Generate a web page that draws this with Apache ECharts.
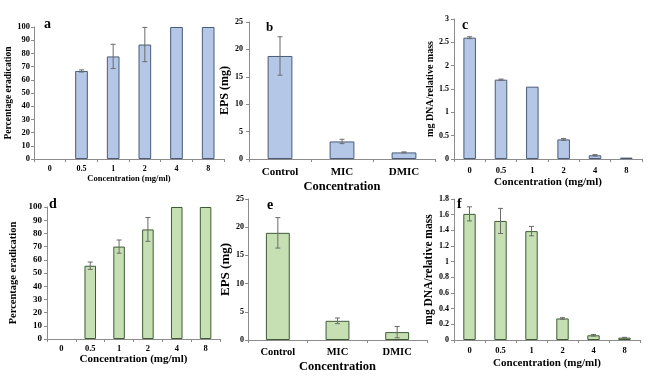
<!DOCTYPE html>
<html>
<head>
<meta charset="utf-8">
<script src="https://cdn.jsdelivr.net/npm/echarts@6/dist/echarts.min.js"></script>
<style>html,body{margin:0;padding:0;background:#fff;}#c{width:657px;height:377px;}</style>
</head>
<body>
<div id="c"></div>
<script>
// ---- data ----
const concCats = ['0', '0.5', '1', '2', '4', '8'];
const epsCats = ['Control', 'MIC', 'DMIC'];

const aVals = [0, 66.7, 77.7, 86.7, 100, 100];
const aErr  = [0, 0.8, 9.2, 13, 0, 0];
const bVals = [18.8, 3.2, 1.2];
const bErr  = [3.5, 0.4, 0.1];
const cVals = [2.6, 1.7, 1.55, 0.42, 0.08, 0.03];
const cErr  = [0.02, 0.012, 0, 0.02, 0.015, 0];
const dVals = [0, 55.5, 70, 83, 100, 100];
const dErr  = [0, 2.8, 5, 9, 0, 0];
const eVals = [19, 3.4, 1.4];
const eErr  = [2.7, 0.5, 1.0];
const fVals = [1.61, 1.52, 1.39, 0.275, 0.06, 0.03];
const fErr  = [0.09, 0.16, 0.06, 0.01, 0.01, 0.004];

const FONT = "'Liberation Serif', 'Times New Roman', serif";
const BLUE = '#b4c7e7', BLUE_B = '#4a5a78';
const GREEN = '#c6e0b4', GREEN_B = '#3f5a35';

const panels = [
  {letter:'a', cats:concCats, vals:aVals, err:aErr, color:BLUE, border:BLUE_B,
   grid:{left:34, top:27, width:190, height:132}, max:100, interval:10,
   yName:'Percentage eradication', yNameSize:9.5, yGap:20, yLabSize:8.5, yMargin:4,
   xName:'Concentration (mg/ml)', xNameSize:8.5, xGap:12, xLabSize:8, xMargin:6,
   lx:44, ly:17, lsize:14},
  {letter:'b', cats:epsCats, vals:bVals, err:bErr, color:BLUE, border:BLUE_B,
   grid:{left:249, top:22, width:186, height:137}, max:25, interval:5,
   yName:'EPS (mg)', yNameSize:12, yGap:14, yLabSize:8, yMargin:6,
   xName:'Concentration', xNameSize:12.5, xGap:21, xLabSize:11, xMargin:8,
   lx:266, ly:21, lsize:13},
  {letter:'c', cats:concCats, vals:cVals, err:cErr, color:BLUE, border:BLUE_B,
   grid:{left:454, top:19, width:188, height:140}, max:3, interval:0.5,
   yName:'mg DNA/relative mass', yNameSize:10, yGap:17, yLabSize:8, yMargin:5,
   xName:'Concentration (mg/ml)', xNameSize:11, xGap:18, xLabSize:8.5, xMargin:7,
   lx:462, ly:18, lsize:14},
  {letter:'d', cats:concCats, vals:dVals, err:dErr, color:GREEN, border:GREEN_B,
   grid:{left:47, top:207, width:173, height:132}, max:100, interval:10,
   yName:'Percentage eradication', yNameSize:10.5, yGap:28, yLabSize:9, yMargin:5,
   xName:'Concentration (mg/ml)', xNameSize:11, xGap:13, xLabSize:8.5, xMargin:5,
   lx:49, ly:197, lsize:14},
  {letter:'e', cats:epsCats, vals:eVals, err:eErr, color:GREEN, border:GREEN_B,
   grid:{left:248, top:199, width:179, height:141}, max:25, interval:5,
   yName:'EPS (mg)', yNameSize:13, yGap:15, yLabSize:8, yMargin:4,
   xName:'Concentration', xNameSize:12.5, xGap:20, xLabSize:10.5, xMargin:7,
   lx:267, ly:198, lsize:14},
  {letter:'f', cats:concCats, vals:fVals, err:fErr, color:GREEN, border:GREEN_B,
   grid:{left:454, top:199, width:186, height:141}, max:1.8, interval:0.2,
   yName:'mg DNA/relative mass', yNameSize:11.5, yGap:17, yLabSize:8, yMargin:5,
   xName:'Concentration (mg/ml)', xNameSize:11, xGap:18, xLabSize:8.5, xMargin:6,
   lx:457, ly:197, lsize:14}
];

const grids = [], xAxes = [], yAxes = [], series = [], graphics = [];
const axisLine = {show:true, lineStyle:{color:'#8c8c8c', width:1}};

panels.forEach((p, i) => {
  grids.push(Object.assign({containLabel:false}, p.grid));
  xAxes.push({
    type:'category', gridIndex:i, data:p.cats, boundaryGap:true,
    axisLine: axisLine,
    axisTick:{show:true, length:3, alignWithLabel:false, lineStyle:{color:'#8c8c8c'}},
    axisLabel:{fontFamily:FONT, fontWeight:'bold', fontSize:p.xLabSize, color:'#000', margin:p.xMargin, interval:0},
    name:p.xName, nameLocation:'middle', nameGap:p.xGap,
    nameTextStyle:{fontFamily:FONT, fontWeight:'bold', fontSize:p.xNameSize, color:'#000', verticalAlign:'top'}
  });
  yAxes.push({
    type:'value', gridIndex:i, min:0, max:p.max, interval:p.interval,
    axisLine: axisLine,
    axisTick:{show:true, length:3, lineStyle:{color:'#8c8c8c'}},
    splitLine:{show:false},
    axisLabel:{fontFamily:FONT, fontWeight:'bold', fontSize:p.yLabSize, color:'#000', margin:p.yMargin},
    name:p.yName, nameLocation:'middle', nameGap:p.yGap,
    nameTextStyle:{fontFamily:FONT, fontWeight:'bold', fontSize:p.yNameSize, color:'#000'}
  });
  series.push({
    type:'bar', xAxisIndex:i, yAxisIndex:i, barWidth:'40%',
    data:p.vals.map(v => v === 0 ? null : v),
    itemStyle:{color:p.color, borderColor:p.border, borderWidth:1},
    silent:true, animation:false
  });
  series.push({
    type:'custom', xAxisIndex:i, yAxisIndex:i, silent:true, animation:false, z:5,
    data:p.vals.map((v, k) => [k, v, p.err[k]]),
    renderItem:function(params, api){
      const x = api.value(0), y = api.value(1), e = api.value(2);
      if (!e) return null;
      const t = api.coord([x, y + e]);
      const b = api.coord([x, Math.max(0, y - e)]);
      const w = 2.5;
      const st = {stroke:'#6b6b6b', lineWidth:1};
      return {type:'group', children:[
        {type:'line', shape:{x1:t[0], y1:t[1], x2:b[0], y2:b[1]}, style:st},
        {type:'line', shape:{x1:t[0]-w, y1:t[1], x2:t[0]+w, y2:t[1]}, style:st},
        {type:'line', shape:{x1:b[0]-w, y1:b[1], x2:b[0]+w, y2:b[1]}, style:st}
      ]};
    }
  });
  graphics.push({
    type:'text', left:p.lx, top:p.ly,
    style:{text:p.letter, font:'bold ' + p.lsize + 'px ' + FONT, fill:'#000'}
  });
});

const chart = echarts.init(document.getElementById('c'), null, {renderer:'canvas'});
chart.setOption({
  animation:false,
  backgroundColor:'#fff',
  grid:grids, xAxis:xAxes, yAxis:yAxes, series:series, graphic:graphics
});
</script>
</body>
</html>
